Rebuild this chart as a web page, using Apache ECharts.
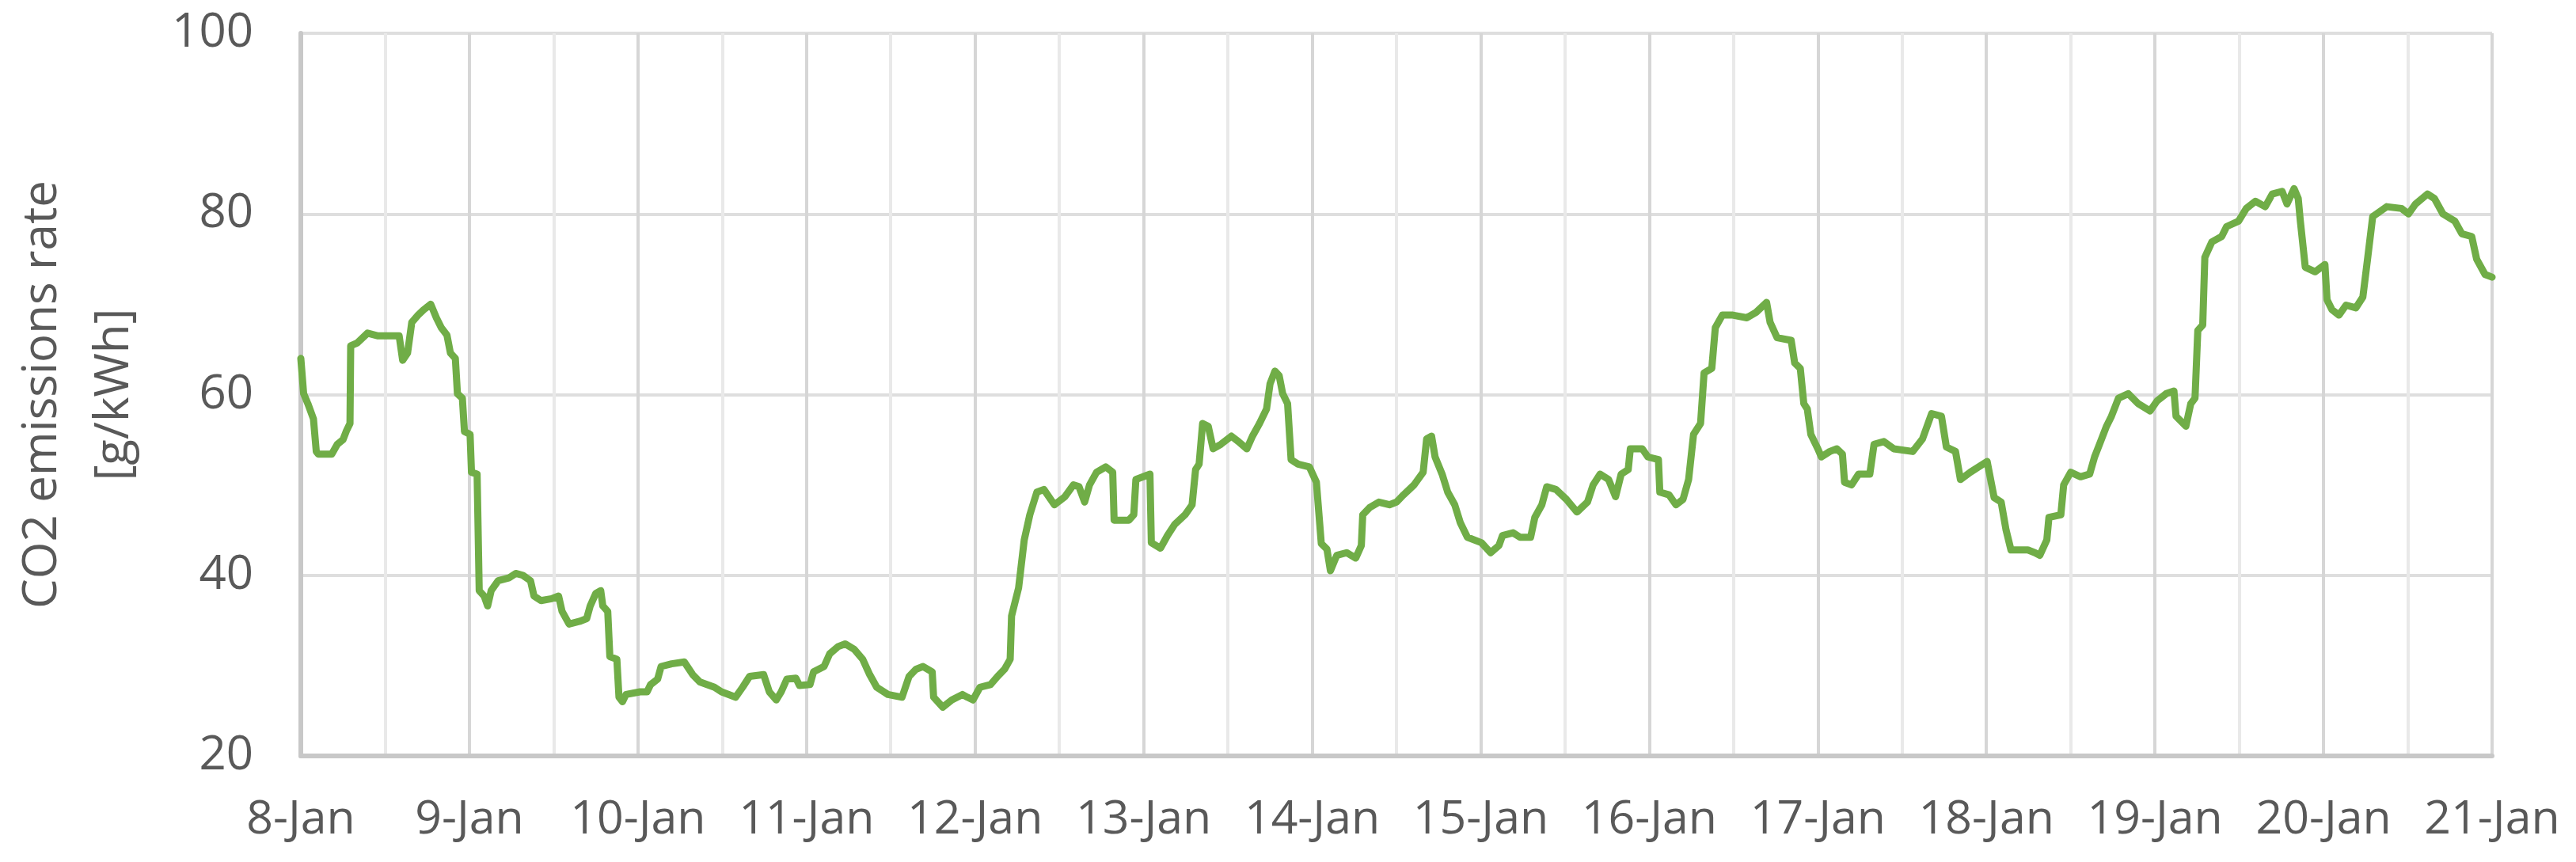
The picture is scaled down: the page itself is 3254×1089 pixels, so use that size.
<!DOCTYPE html>
<html>
<head>
<meta charset="utf-8">
<script src="https://cdn.jsdelivr.net/npm/echarts@6/dist/echarts.min.js"></script>
<style>
html,body{margin:0;padding:0;background:#fff;}
#chart{width:3254px;height:1089px;}
</style>
</head>
<body>
<div id="chart"></div>
<script>
// Hours since 8-Jan 00:00
const hours = [0,0.4,1,1.8,2.2,2.5,4.4,5.2,6,6.5,7,7.1,8,9.5,11,14,14.5,15.2,15.8,16.7,17.5,18.5,19.3,20,20.8,21.3,22,22.3,23,23.3,24.1,24.3,25.1,25.4,26.1,26.6,27.1,28.1,29.6,30.6,31.6,32.7,33.2,34.2,35.7,36.7,37.2,38.2,39.7,40.7,41.2,42,42.7,43,43.7,44,45,45.3,45.8,46.3,48.3,49.3,49.8,50.8,51.3,52.8,54.6,55.8,56.8,58.9,59.9,61.9,62.9,63.9,65.9,66.7,67.7,68.4,69.2,70.5,71,72.5,73,74.5,75.3,76.5,77.5,78.8,80,81,82,83.6,85.6,86.6,87.6,88.6,89.9,90.1,91.4,92.7,94.2,94.9,95.7,96.7,98.2,99.2,100.2,101,101.2,102.2,103,103.8,104.8,105.8,107.3,108.8,110,110.8,111.6,112.3,113.3,114.6,115.6,115.8,117.9,118.6,118.9,120.9,121.1,122.4,123.4,124.4,125.9,126.9,127.4,127.9,128.4,129.2,129.9,131,132.5,133.5,134.7,135.5,136.5,137.5,138,138.7,139.3,139.8,140.5,141,142,143.6,144.6,145.3,146.1,146.6,147.5,148.9,150.2,151,151.2,152.2,153.5,155,156,157,158.5,159.8,160.3,161,161.5,162.5,163.3,164.3,165.1,166.1,168.1,169.4,170.6,171.1,172.6,173.6,175.1,175.7,176.7,177.4,178.7,180.2,181.7,183.2,184,185,186.2,187.2,188,189,189.3,191,191.8,193.3,193.5,194.8,195.8,196.8,197.6,198.3,199.3,199.8,200.9,201.4,202.4,203.9,205.9,207.2,208.7,209.2,210.2,212.2,212.7,213.5,214,214.5,215,216,216.5,217.7,218.7,219.5,219.8,220.8,221.8,223.4,224,225.4,226.8,229.5,230.9,232.2,233.6,234.3,235.6,236.3,237.7,240.1,241.1,242.1,242.8,243.5,245.9,246.9,247.6,248.6,248.9,250.6,251,252,253.4,254.7,255.4,256.1,257.1,257.8,258.8,260.2,261.6,263.3,264.3,265.6,266.7,267,268.4,269.1,269.7,270.1,270.8,271.1,272.1,273.5,274.2,275.9,277,278.3,279.7,280.7,282.1,282.8,283.8,284.4,284.7,285.4,286.8,288.2,288.5,289.2,290.2,291.2,292.6,293.6,294.3,295,297,299.1,300.1,301.1,302.8,303.8,305,306.7,307.7,309.1,309.8,311,312];
const co2 = [64,60.1,59,57.3,53.7,53.4,53.4,54.5,55,56,56.8,65.4,65.7,66.8,66.5,66.5,63.8,64.6,68,68.8,69.4,70,68.5,67.4,66.6,64.6,64,60.1,59.6,55.9,55.6,51.4,51.2,38.3,37.7,36.6,38.3,39.4,39.7,40.2,40,39.4,37.7,37.2,37.4,37.7,36,34.6,34.9,35.2,36.6,38,38.3,36.6,36,31,30.7,26.5,26,26.8,27.1,27.1,27.9,28.5,29.9,30.2,30.4,29,28.2,27.6,27.1,26.5,27.6,28.8,29,27.1,26.2,27.1,28.5,28.6,27.8,27.9,29.3,29.9,31.3,32.1,32.4,31.8,30.7,29,27.6,26.8,26.5,28.8,29.6,29.9,29.3,26.5,25.4,26.2,26.8,26.5,26.2,27.6,27.9,28.8,29.6,30.7,35.5,38.6,43.9,46.7,49.2,49.5,47.8,48.7,50,49.8,48.1,50,51.4,52,51.4,46.1,46.1,46.7,50.6,51.2,43.6,43,44.4,45.6,46.7,47.8,51.7,52.3,56.8,56.5,54,54.5,55.4,54.8,54,55.4,56.8,58.4,61.2,62.6,62.1,60.1,59,52.8,52.3,52,50.3,43.5,42.9,40.5,42.2,42.5,41.9,43.3,46.7,47.5,48.1,47.8,48.1,48.9,50,51.4,55.1,55.4,53.1,51.2,49.2,47.8,45.8,44.2,43.6,42.5,43.3,44.4,44.7,44.2,44.2,46.4,47.8,49.8,49.5,48.4,47,48.1,50,51.2,50.6,48.7,51.2,51.7,54,54,53.1,52.8,49.2,48.9,47.8,48.4,50.6,55.6,56.8,62.4,62.9,67.4,68.8,68.8,68.5,69.1,70.2,68,66.3,66,63.5,62.9,59,58.4,55.6,54,53.1,53.7,54,53.4,50.3,50,51.2,51.2,54.5,54.8,54,53.7,55.1,57.9,57.6,54.2,53.7,50.6,51.4,52.6,48.6,48.1,45,42.8,42.8,42.5,42.2,43.9,46.4,46.7,50,51.4,50.9,51.2,53.1,54.5,56.5,57.6,59.6,60.1,59,58.2,59.3,60.1,60.4,57.6,56.5,59,59.6,67.1,67.7,75.2,76.9,77.5,78.6,79.2,80.6,81.4,80.8,82.2,82.5,81.1,82.8,81.7,79.2,74.1,73.6,74.4,70.5,69.4,68.8,69.9,69.6,70.8,75.2,79.7,80.8,80.6,80,81.1,82.2,81.7,80,79.2,77.8,77.5,75,73.3,73];
const dayLabels = ['8-Jan','9-Jan','10-Jan','11-Jan','12-Jan','13-Jan','14-Jan','15-Jan','16-Jan','17-Jan','18-Jan','19-Jan','20-Jan','21-Jan'];
const yTitle = 'CO2 emissions rate\n[g/kWh]';

const chart = echarts.init(document.getElementById('chart'), null, {renderer: 'canvas'});
const FONT = 'Open Sans';
chart.setOption({
  animation: false,
  backgroundColor: '#ffffff',
  grid: {left: 380, right: 106, top: 42, bottom: 134, containLabel: false},
  xAxis: {
    type: 'value', min: 0, max: 312, interval: 24,
    axisLine: {show: true, lineStyle: {color: '#c8c8c8', width: 6}},
    axisTick: {show: false},
    minorTick: {show: false, splitNumber: 2},
    axisLabel: {
      show: true, margin: 52, color: '#595959', fontFamily: FONT, fontSize: 59,
      showMinLabel: true, showMaxLabel: true,
      formatter: v => dayLabels[Math.round(v / 24)] || ''
    },
    splitLine: {show: true, lineStyle: {color: '#d6d6d6', width: 4}},
    minorSplitLine: {show: true, lineStyle: {color: '#e9e9e9', width: 4}}
  },
  yAxis: {
    type: 'value', min: 20, max: 100, interval: 20,
    name: yTitle, nameLocation: 'middle', nameRotate: 90, nameGap: 190,
    nameTextStyle: {color: '#595959', fontFamily: FONT, fontSize: 60, lineHeight: 91},
    axisLine: {show: true, lineStyle: {color: '#c8c8c8', width: 6}},
    axisTick: {show: false},
    axisLabel: {margin: 60, color: '#595959', fontFamily: FONT, fontSize: 60},
    splitLine: {show: true, lineStyle: {color: '#dedede', width: 4}}
  },
  series: [{
    type: 'line',
    data: hours.map((h, i) => [h, co2[i]]),
    showSymbol: false,
    symbol: 'none',
    lineStyle: {color: '#70AD47', width: 9, join: 'round', cap: 'round'},
    z: 5
  }]
});
</script>
</body>
</html>
